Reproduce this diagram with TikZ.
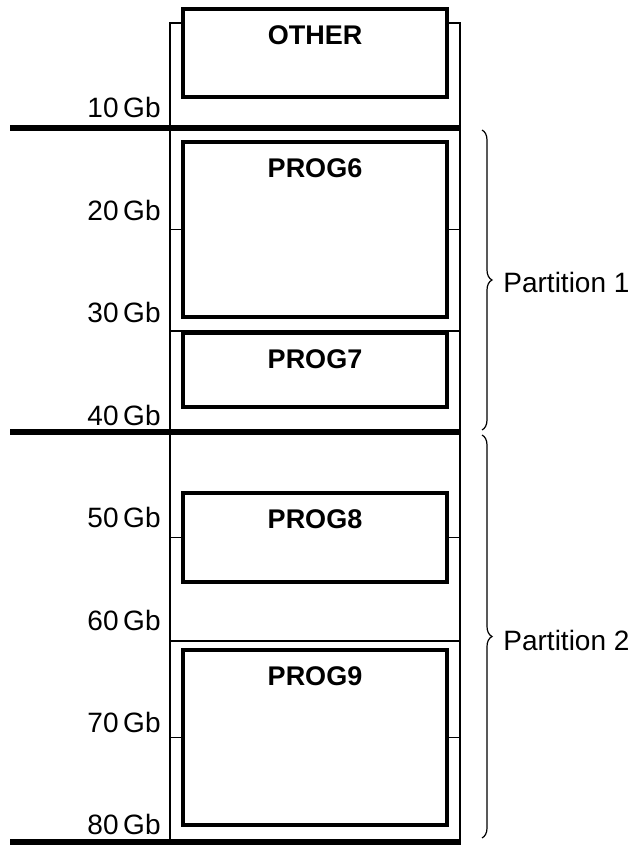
\documentclass[tikz,border=0pt]{standalone}
\usepackage{fontspec}
\setmainfont{Liberation Sans}
\usetikzlibrary{positioning,decorations.pathreplacing}

\tikzset{
  progbox/.style={draw, line width=1.6pt, fill=white, minimum width=132pt, inner sep=0pt},
  progname/.style={font=\fontsize{13.5}{15}\selectfont\bfseries, anchor=base, inner sep=0pt},
  sizelabel/.style={font=\fontsize{14}{16}\selectfont, anchor=base east, inner sep=0pt},
  partlabel/.style={font=\fontsize{14}{16}\selectfont, anchor=west, inner sep=0pt},
  frameline/.style={line width=0.7pt},
  partline/.style={line width=2.8pt},
  partbrace/.style={decorate, decoration={brace, amplitude=5pt}, line width=0.6pt},
}

\begin{document}
\begin{tikzpicture}[x=0.5pt, y=-0.5pt]
  \useasboundingbox (0,0) rectangle (634,845);

  % disk frame
  \coordinate (ftl) at (170,23);
  \coordinate (ftr) at (460,23);
  \coordinate (fbl) at (170,843);
  \coordinate (fbr) at (460,843);
  \draw[frameline] (fbl) -- (ftl) -- (ftr) -- (fbr);
  \coordinate (sep30) at (170,331);
  \coordinate (sep60) at (170,641);
  \draw[frameline] (sep30) -- (sep30 -| ftr);
  \draw[frameline] (sep60) -- (sep60 -| ftr);

  % programs
  \node[progbox, minimum height=44pt]   (other) at (315,53)    {};
  \node[progbox, minimum height=87.5pt] (prog6) at (315,229.5) {};
  \node[progbox, minimum height=37pt]   (prog7) at (315,370)   {};
  \node[progbox, minimum height=44.5pt] (prog8) at (315,537.5) {};
  \node[progbox, minimum height=87.5pt] (prog9) at (315,737.5) {};
  \foreach \p/\t in {other/OTHER, prog6/PROG6, prog7/PROG7, prog8/PROG8, prog9/PROG9}
    \node[progname] (\p-name) at ([yshift=-18.5pt]\p.north) {\t};
  \foreach \p in {prog6, prog8, prog9} {
    \draw[frameline] (\p.west) -- (\p.west -| ftl);
    \draw[frameline] (\p.east) -- (\p.east -| ftr);
  }

  % partition limits
  \draw[partline] (10,128) -- (461,128);
  \draw[partline] (10,432) -- (461,432);
  \draw[partline] (10,842) -- (461,842);

  % sizes
  \foreach \n in {1,...,8}
    \node[sizelabel] (gb\n) at (161,{118+(\n-1)*102.4}) {\n0\,Gb};

  % partitions
  \node[partlabel] (part1) at (503,282) {Partition 1};
  \node[partlabel] (part2) at (503,640) {Partition 2};
  \draw[partbrace] (482,130) -- (482,430);
  \draw[partbrace] (482,435) -- (482,838);
\end{tikzpicture}
\end{document}
